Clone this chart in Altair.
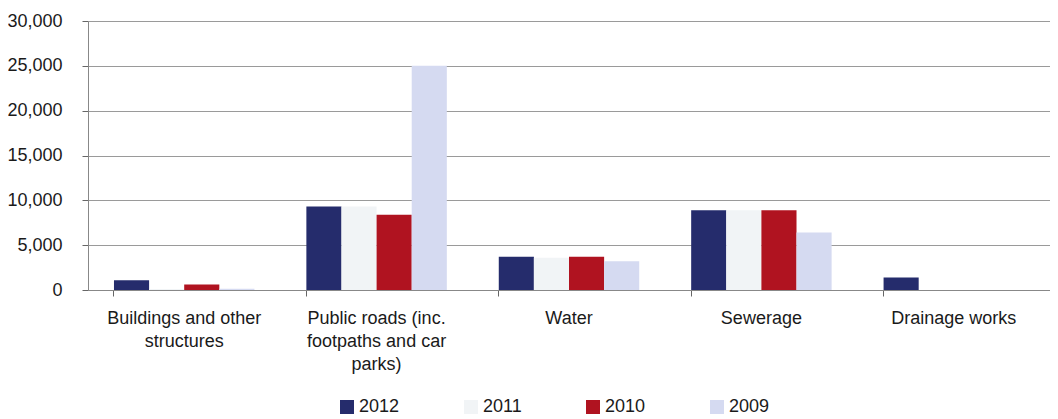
import altair as alt
import pandas as pd

categories = [
    "Buildings and other\nstructures",
    "Public roads (inc.\nfootpaths and car\nparks)",
    "Water",
    "Sewerage",
    "Drainage works",
]
years = ["2012", "2011", "2010", "2009"]
values_2012 = [1100, 9300, 3700, 8900, 1400]
values_2011 = [100, 9300, 3600, 8900, 0]
values_2010 = [600, 8400, 3700, 8900, 0]
values_2009 = [150, 25000, 3200, 6400, 0]
colors = ["#252c6c", "#f1f4f6", "#b01320", "#d5daf1"]

series = {"2012": values_2012, "2011": values_2011, "2010": values_2010, "2009": values_2009}
rows = []
for y in years:
    for c, v in zip(categories, series[y]):
        rows.append({"category": c, "year": y, "value": v})
df = pd.DataFrame(rows)

FONT = "Liberation Sans"

chart = alt.Chart(df).mark_bar().encode(
    x=alt.X(
        "category:N",
        sort=categories,
        scale=alt.Scale(paddingInner=0.27, paddingOuter=0.135),
        axis=alt.Axis(
            title=None,
            labelAngle=0,
            labelExpr="split(datum.label, '\\n')",
            labelFontSize=18,
            labelLineHeight=23,
            labelPadding=13,
            labelColor="#1a1a1a",
            labelFont=FONT,
            tickSize=6,
            tickColor="#666",
            bandPosition=0,
            domainColor="#888",
            grid=False,
        ),
    ),
    xOffset=alt.XOffset("year:N", sort=years, scale=alt.Scale(paddingInner=0, paddingOuter=0)),
    y=alt.Y(
        "value:Q",
        scale=alt.Scale(domain=[0, 30000], nice=False),
        axis=alt.Axis(
            title=None,
            values=[0, 5000, 10000, 15000, 20000, 25000, 30000],
            format=",.0f",
            labelFontSize=18,
            labelFont=FONT,
            labelColor="#1a1a1a",
            labelPadding=20,
            tickSize=6,
            tickColor="#666",
            domainColor="#888",
            gridColor="#9a9a9a",
            gridWidth=1,
        ),
    ),
    color=alt.Color(
        "year:N",
        sort=years,
        scale=alt.Scale(domain=years, range=colors),
        legend=alt.Legend(
            title=None,
            orient="none",
            legendX=250,
            legendY=377,
            direction="horizontal",
            columns=4,
            columnPadding=62,
            symbolType="square",
            symbolSize=196,
            symbolStrokeWidth=0,
            labelFontSize=18,
            labelFont=FONT,
            labelColor="#1a1a1a",
            labelOffset=3,
        ),
    ),
).properties(
    width=962,
    height=269,
    autosize=alt.AutoSizeParams(type="none"),
    padding={"left": 80, "top": 13, "right": 0, "bottom": 128},
).configure_view(stroke=None).configure_axis(domainWidth=1)

chart.save("out.html", embed_options={"renderer": "svg", "actions": False})
